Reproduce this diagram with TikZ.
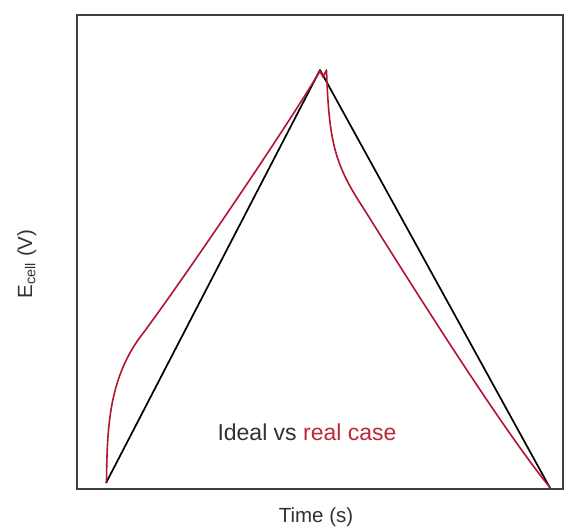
\documentclass[tikz,border=0pt]{standalone}
\usepackage{fontspec}
\setmainfont{Liberation Sans}
\definecolor{realred}{RGB}{176,22,48}
\definecolor{realtxt}{RGB}{190,40,55}
\definecolor{txtgray}{RGB}{50,50,50}
\begin{document}
\begin{tikzpicture}[x=1pt,y=-1pt,
  frame/.style={draw=black!75,line width=1.8pt},
  ideal/.style={draw=black,line width=1.7pt,line join=round},
  real/.style={draw=realred,line width=1.6pt,line join=round},
  lbl/.style={text=txtgray,inner sep=0pt}]
\useasboundingbox (0,0) rectangle (564,527);
\fill[white] (0,0) rectangle (564,527);
\node[frame,minimum width=486pt,minimum height=474pt,inner sep=0pt,anchor=north west] (box) at (76,14) {};
% ideal
\coordinate (a) at (106,483);
\coordinate (p) at (320,70);
\coordinate (b) at (550,488);
\draw[ideal] (a) -- (p) -- (b);
% real
\coordinate (r0) at (106.5,483);
\coordinate (r1) at (138,340);
\coordinate (r2) at (320,71);
\coordinate (r3) at (323,77);
\coordinate (r4) at (326.5,70);
\coordinate (r5) at (362,206);
\coordinate (r6) at (550,487.5);
\draw[real] (r0) .. controls (107,428) and (109,382) .. (r1)
  .. controls (176,290) and (285,130) .. (r2)
  -- (r3) -- (r4)
  .. controls (329,140) and (334,163) .. (r5)
  .. controls (388,247) and (495,420) .. (r6);
\node[lbl,font=\fontsize{23}{25}\selectfont,anchor=base] (t) at (307,440) {Ideal vs \textcolor{realtxt}{real case}};
\node[lbl,font=\fontsize{20.5}{22}\selectfont,anchor=base] (xl) at (316,522) {Time (s)};
\node[lbl,font=\fontsize{20.5}{22}\selectfont,rotate=90,anchor=base] (yl) at (32,264) {E\textsubscript{cell} (V)};
\end{tikzpicture}
\end{document}
